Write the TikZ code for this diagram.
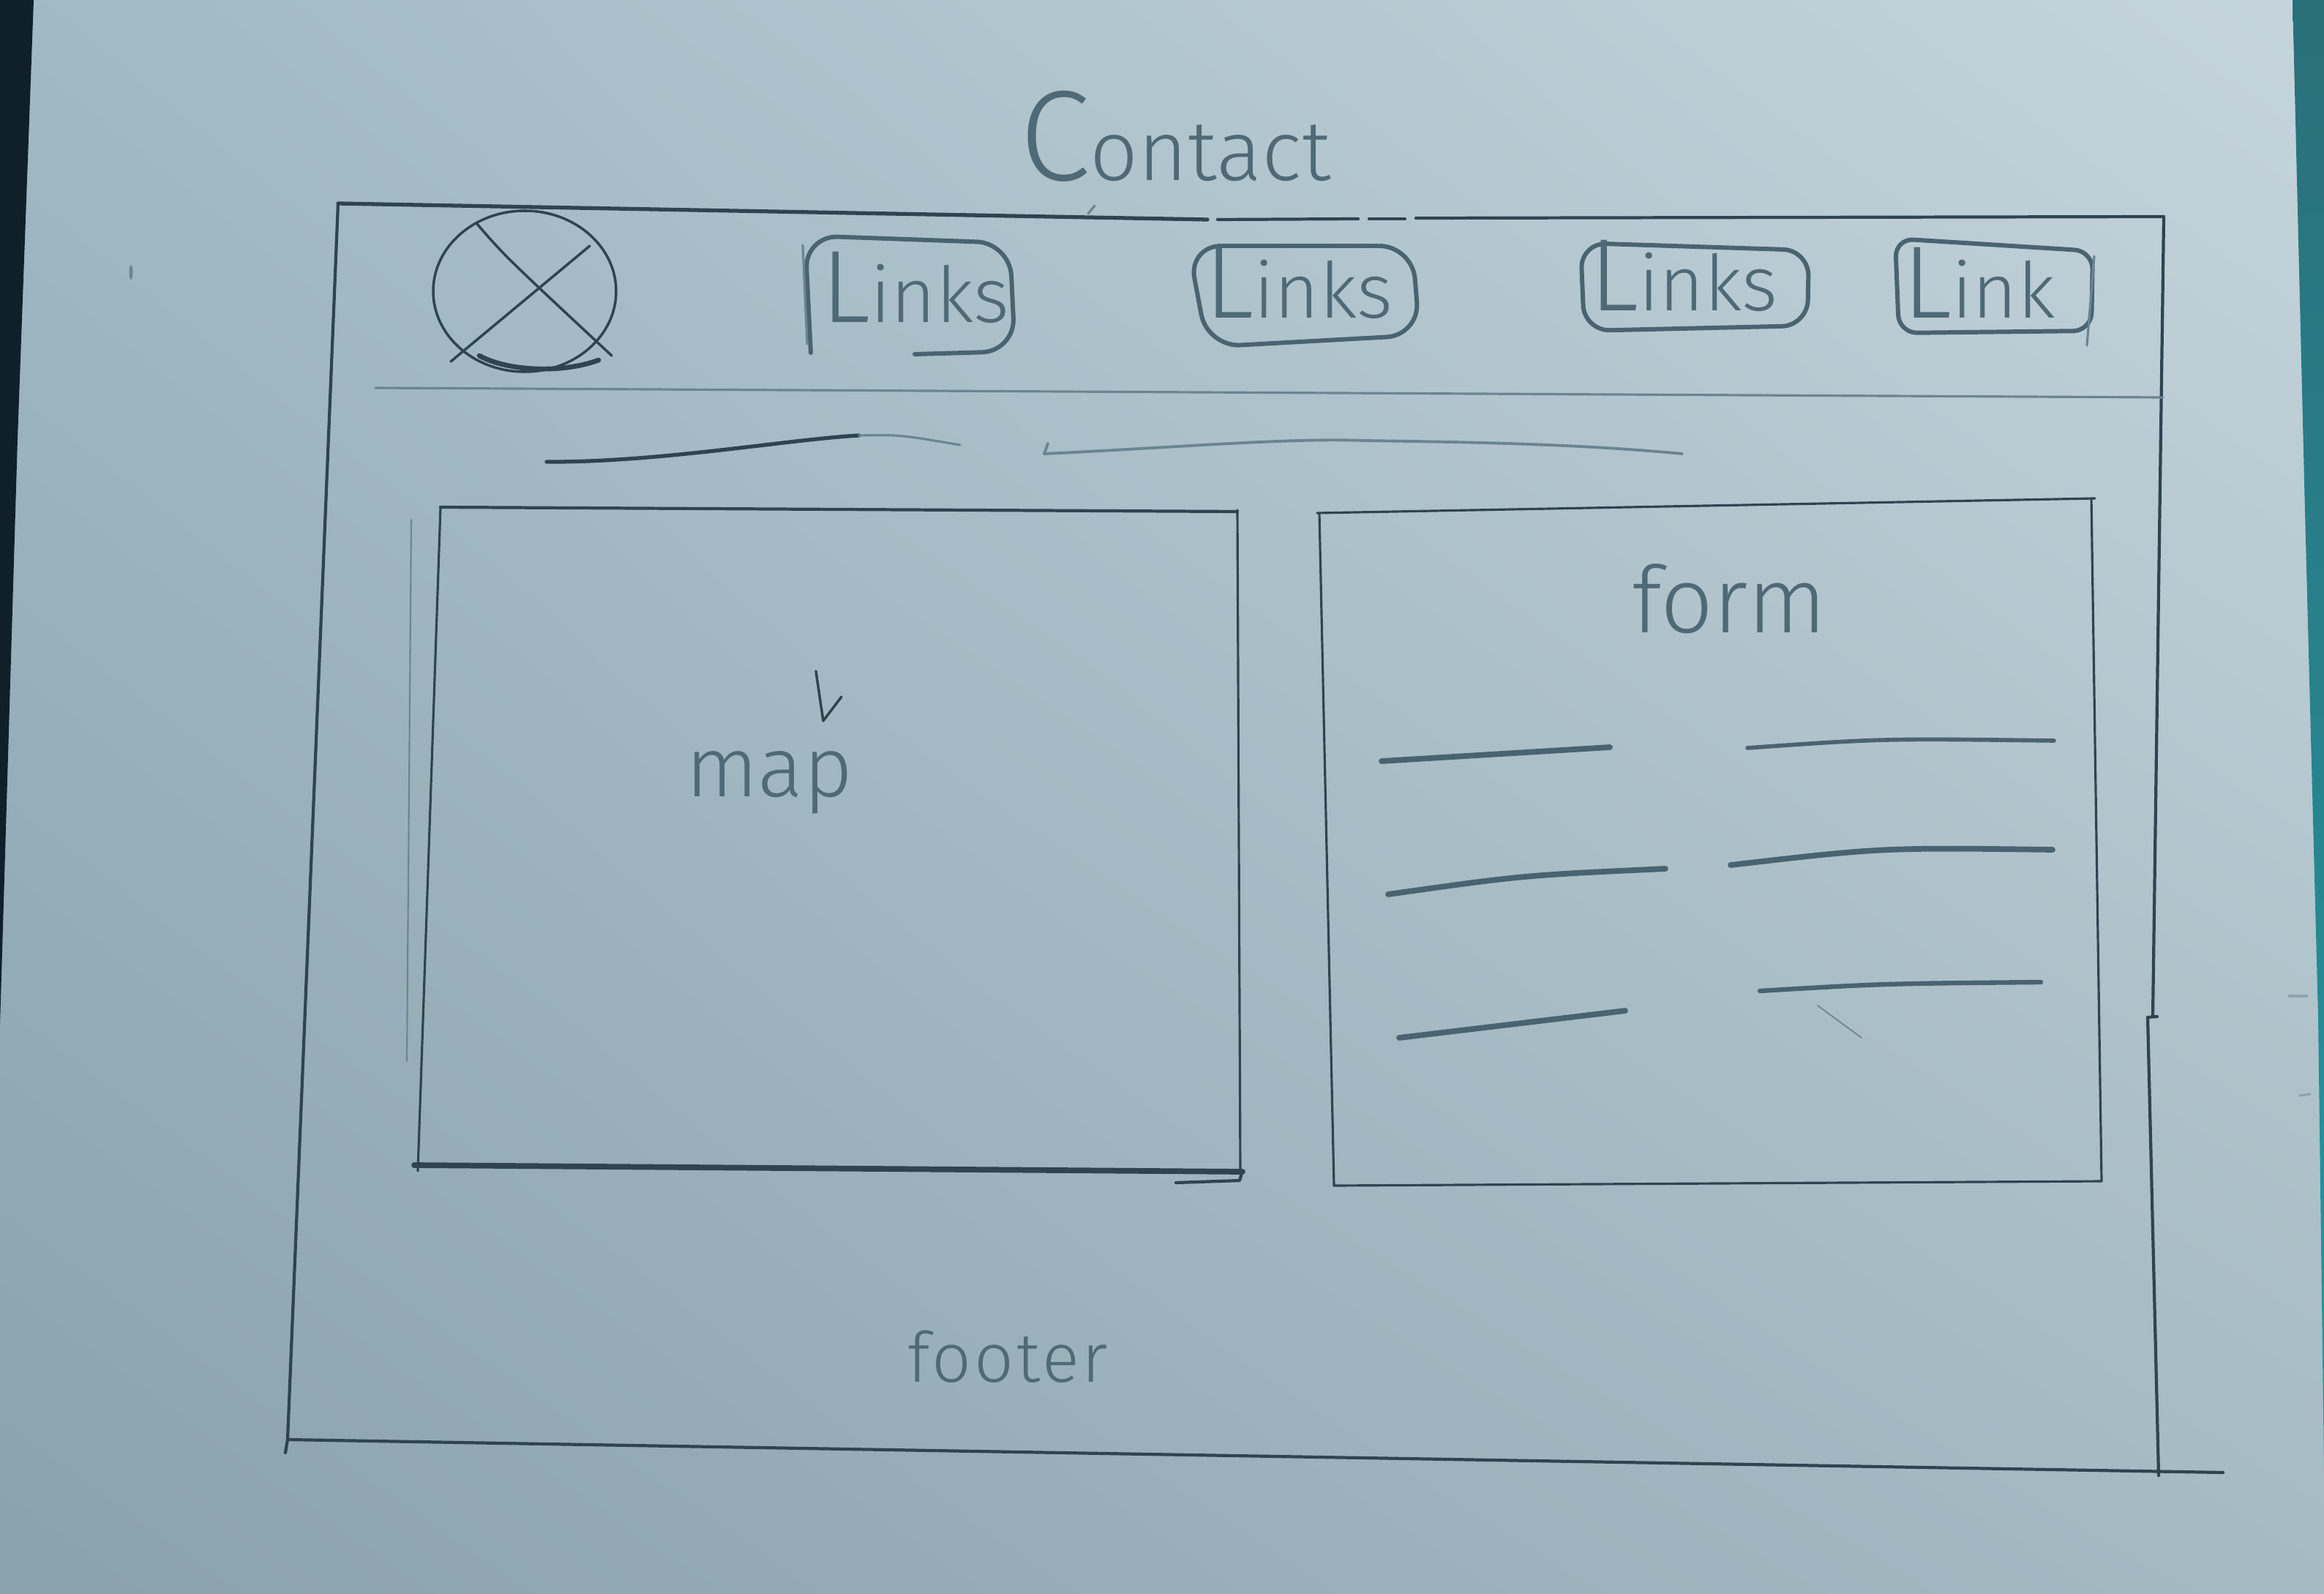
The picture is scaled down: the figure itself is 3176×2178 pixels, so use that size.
\documentclass[tikz,border=0pt]{standalone}
\usepackage{fontspec}
\usetikzlibrary{shadings}
\IfFontExistsTF{Fira Sans Light}{\newfontfamily\hand{Fira Sans Light}}{\newfontfamily\hand{Fira Sans}}
\newcommand\sketchsize[1]{\fontsize{#1}{#1}\selectfont}
\definecolor{paperUL}{HTML}{A0B9C4}
\definecolor{paperUR}{HTML}{C6D5DC}
\definecolor{paperLL}{HTML}{8AA2AE}
\definecolor{paperLR}{HTML}{A5BAC3}
\definecolor{deskDark}{HTML}{10202B}
\definecolor{deskTealA}{HTML}{2A6F7A}
\definecolor{deskTealB}{HTML}{2597A0}
\definecolor{penDark}{HTML}{2E4451}
\definecolor{penMid}{HTML}{4A6370}
\definecolor{penLight}{HTML}{6A8591}
\definecolor{inkText}{HTML}{4F6976}
\begin{document}
\begin{tikzpicture}[x=0.1mm,y=-0.1mm,
  pencil/.style={draw=penDark, line width=1.2pt, line cap=round, line join=round},
  faint/.style={draw=penLight, line width=0.9pt, line cap=round, line join=round},
  heavy/.style={draw=penDark, line width=2.2pt, line cap=round},
  field/.style={draw=penMid, line width=2.2pt, line cap=round},
  linkbox/.style={draw=penMid, line width=1.7pt, rounded corners=4.5mm, line cap=round},
  txt/.style={inner sep=0pt, outer sep=0pt, anchor=base west, text=inkText, font=\hand},
]
% sheet of paper and desk edges
\useasboundingbox (0,0) rectangle (3176,2178);
\shade[upper left=paperUL, upper right=paperUR, lower left=paperLL, lower right=paperLR]
  (0,0) rectangle (3176,2178);
\fill[deskDark] (0,0) -- (46,0) -- (24,600) -- (6,1200) -- (0,1400) -- cycle;
\shade[top color=deskTealA, bottom color=deskTealB]
  (3133,0) -- (3176,0) -- (3176,2010) -- (3168,1390) -- (3150,700) -- cycle;

% page title
\node[txt] (title) at (1393,247) {{\sketchsize{50pt}C}{\sketchsize{33pt}ontact}};
\draw[faint] (1487,292) -- (1496,281);

% outer page frame
\draw[pencil, line width=1.5pt] (462,278) -- (1650,300);
\draw[pencil] (1664,300) -- (1856,299);
\draw[pencil] (1871,299) -- (1920,299);
\draw[pencil] (1935,298) -- (2957,296);
\draw[pencil] (462,278) -- (393,1967) -- (390,1985);
\draw[pencil] (393,1967) -- (3038,2012);
\draw[pencil] (2957,296) -- (2942,1388);
\draw[pencil] (2948,1389) -- (2935,1390) -- (2950,2016);

% header: logo and navigation links
\draw[pencil, line width=1pt] (717,398) ellipse [x radius=12.5mm, y radius=11mm];
\draw[pencil, line width=1.9pt] (655,486) .. controls (695,508) and (770,510) .. (818,492);
\draw[pencil, line width=1pt] (652,306) .. controls (690,350) .. (836,486);
\draw[pencil, line width=1pt] (806,336) -- (616,494);

\draw[linkbox] (1108,482) -- (1100,322) -- (1380,332) -- (1387,480) -- (1250,484);
\draw[faint] (1097,335) -- (1103,470);
\node[txt] (link1) at (1122,441) {{\sketchsize{40pt}L}{\sketchsize{30pt}inks}};

\draw[linkbox] (1650,474) -- (1624,336) -- (1930,336) -- (1940,458) -- cycle;
\node[txt] (link2) at (1646,435) {{\sketchsize{40pt}L}{\sketchsize{30pt}inks}};

\draw[linkbox, rounded corners=3.5mm] (2165,452) -- (2160,332) -- (2472,342) -- (2470,445) -- cycle;
\node[txt] (link3) at (2172,425) {{\sketchsize{40pt}L}{\sketchsize{30pt}inks}};

\draw[linkbox, rounded corners=2.5mm] (2595,455) -- (2590,326) -- (2860,343) -- (2858,452) -- cycle;
\draw[faint] (2862,350) -- (2852,472);
\node[txt] (link4) at (2600,435) {{\sketchsize{40pt}L}{\sketchsize{30pt}ink}};

\draw[faint] (513,530) -- (2956,543);

% heading strokes
\draw[pencil, line width=1.5pt] (747,631) .. controls (900,632) and (1080,600) .. (1174,595);
\draw[faint] (1174,595) .. controls (1230,594) .. (1312,608);
\draw[faint, line width=1.1pt] (1432,606) -- (1427,620) .. controls (1600,612) and (1760,598) .. (1863,602)
  .. controls (2000,604) and (2150,606) .. (2299,620);

% map panel
\draw[pencil] (602,693) -- (1691,699);
\draw[pencil, line width=0.9pt] (1691,697) -- (1695,1600);
\draw[pencil, line width=0.9pt] (602,693) -- (571,1600);
\draw[faint, line width=0.6pt] (562,710) -- (556,1450);
\draw[heavy] (566,1592) -- (1698,1601);
\draw[pencil] (1607,1616) -- (1694,1613) -- (1698,1600);
\node[txt] (map) at (937,1088) {\sketchsize{33pt}map};
\draw[pencil, line width=1pt] (1115,917) -- (1125,985) -- (1150,952);

% contact form panel
\draw[pencil, line width=0.9pt] (1800,701) -- (2863,681);
\draw[pencil, line width=0.9pt] (1803,701) -- (1823,1620);
\draw[pencil, line width=0.9pt] (2858,681) -- (2872,1614);
\draw[pencil, line width=0.9pt] (1823,1620) -- (2872,1614);
\node[txt] (form) at (2230,864) {\sketchsize{36pt}form};

\draw[field] (1888,1040) -- (2200,1021);
\draw[field, line width=1.6pt] (2388,1022) .. controls (2572,1009) .. (2807,1012);
\draw[field] (1897,1222) .. controls (2081,1196) .. (2276,1187);
\draw[field] (2365,1182) .. controls (2572,1158) .. (2805,1161);
\draw[field] (1912,1418) .. controls (2046,1402) .. (2221,1381);
\draw[field, line width=1.8pt] (2405,1354) .. controls (2572,1344) .. (2789,1342);
\draw[faint, line width=0.5pt] (2484,1374) -- (2544,1418);

% footer
\node[txt] (footer) at (1240,1888) {\sketchsize{27pt}\addfontfeatures{LetterSpace=4}footer};

% paper specks
\fill[penMid, opacity=0.6] (179,372) ellipse [x radius=0.25mm, y radius=1mm];
\draw[faint, opacity=0.5] (3128,1361) -- (3153,1361);
\draw[faint, opacity=0.5] (3143,1497) -- (3157,1495);
\end{tikzpicture}
\end{document}
